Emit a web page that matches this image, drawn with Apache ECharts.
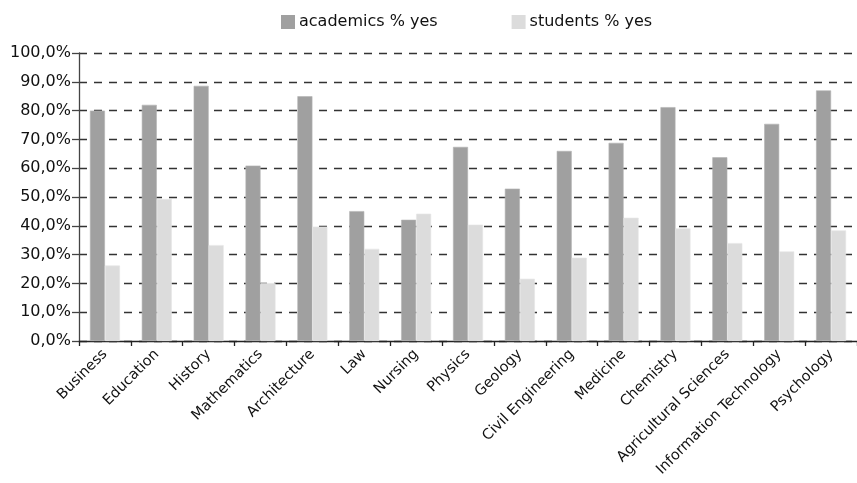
<!DOCTYPE html>
<html>
<head>
<meta charset="utf-8">
<script src="https://cdn.jsdelivr.net/npm/echarts@6/dist/echarts.min.js"></script>
<style>html,body{margin:0;padding:0;background:#fff}#c{width:857px;height:483px}</style>
</head>
<body>
<div id="c"></div>
<script>
var categories = ["Business","Education","History","Mathematics","Architecture","Law","Nursing","Physics","Geology","Civil Engineering","Medicine","Chemistry","Agricultural Sciences","Information Technology","Psychology"];
var academics = [80.0, 82.0, 88.6, 60.9, 85.0, 45.1, 42.1, 67.4, 52.9, 66.0, 68.8, 81.2, 63.8, 75.4, 87.0];
var students = [26.2, 49.3, 33.3, 20.1, 39.7, 32.0, 44.2, 40.4, 21.6, 28.9, 42.8, 39.1, 34.0, 31.1, 38.4];
var seriesNames = ["academics % yes", "students % yes"];

var font = "DejaVu Sans";
var chart = echarts.init(document.getElementById('c'));
chart.setOption({
  animation: false,
  backgroundColor: '#fff',
  textStyle: {fontFamily: font},
  legend: {
    left: 281, top: 14, padding: 0,
    itemWidth: 14, itemHeight: 14, itemGap: 74,
    icon: 'rect',
    itemStyle: {borderWidth: 0},
    textStyle: {fontFamily: font, fontSize: 16, color: '#111', padding: [0,0,0,-1]},
    data: seriesNames
  },
  grid: {left: 79, top: 53, bottom: 142, right: -4, containLabel: false},
  xAxis: {
    type: 'category',
    data: categories,
    boundaryGap: true,
    axisLine: {lineStyle: {color: '#222', width: 1.3}},
    axisTick: {show: true, length: 5, lineStyle: {color: '#222', width: 1.3}},
    axisLabel: {rotate: 45, interval: 0, margin: 11, fontFamily: font, fontSize: 14.5, color: '#111'}
  },
  yAxis: {
    type: 'value', min: 0, max: 100, interval: 10,
    axisLine: {show: true, lineStyle: {color: '#444', width: 1.3}},
    axisTick: {show: true, length: 7, lineStyle: {color: '#444', width: 1.3}},
    axisLabel: {margin: 8, fontFamily: font, fontSize: 16, color: '#111',
      formatter: function(v){ return v.toFixed(1).replace('.', ',') + '%'; }},
    splitLine: {show: true, lineStyle: {color: '#333', width: 1.3, type: [8, 7]}}
  },
  series: [
    {name: seriesNames[0], type: 'bar', data: academics, barWidth: 15, barGap: '0%',
     itemStyle: {color: '#a0a0a0', borderColor: '#b4b4b4', borderWidth: 0.6}},
    {name: seriesNames[1], type: 'bar', data: students, barWidth: 15, barGap: '0%',
     itemStyle: {color: '#dcdcdc', borderColor: '#e6e6e6', borderWidth: 0.6}}
  ]
});
</script>
</body>
</html>
